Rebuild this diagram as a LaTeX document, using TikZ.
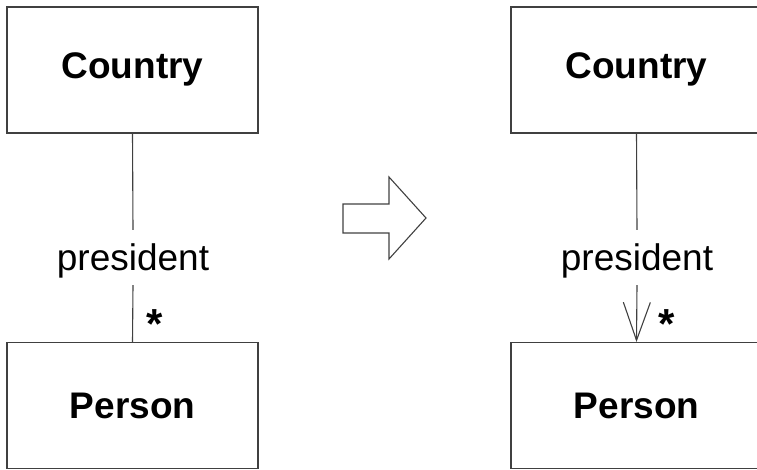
\documentclass[tikz,border=0pt]{standalone}
\usepackage{fontspec}
\setmainfont{Liberation Sans}
\usetikzlibrary{arrows.meta}
\begin{document}
\begin{tikzpicture}[x=1pt,y=-1pt,
  ln/.style={line width=1.1pt, draw=black!75},
  classbox/.style={ln, rectangle, minimum width=251pt, minimum height=126pt, inner sep=0pt, font=\fontsize{37}{44}\selectfont\bfseries},
  rolelbl/.style={rectangle, inner sep=0pt, minimum height=55pt, text height=30pt, text depth=5pt, font=\fontsize{37}{44}\selectfont},
  mult/.style={inner sep=0pt, font=\fontsize{42}{48}\selectfont\bfseries}]
\useasboundingbox (0,0) rectangle (757,470);
\clip (0,0) rectangle (757,470);
% left
\node[classbox, text height=25pt, text depth=8pt] (c1) at (132.5,70) {Country};
\node[classbox, text height=26pt, text depth=1pt] (p1) at (132.5,405.5) {Person};
\node[rolelbl] (r1) at (133,257.5) {president};
\draw[ln] (c1.south) -- (r1.north);
\draw[ln] (r1.south) -- (p1.north);
\node[mult] (m1) at (155,324) {*};
% big arrow
\draw[ln, line join=miter] (343,204) -- (389,204) -- (389,177) -- (426,218) -- (389,259) -- (389,233) -- (343,233) -- cycle;
% right
\node[classbox, text height=25pt, text depth=8pt] (c2) at (636.5,70) {Country};
\node[classbox, text height=26pt, text depth=1pt] (p2) at (636.5,405.5) {Person};
\node[rolelbl] (r2) at (637,257.5) {president};
\draw[ln] (c2.south) -- (r2.north);
\draw[ln, -{Straight Barb[length=38pt, width=27pt, line width=1.1pt]}] (r2.south) -- (p2.north);
\node[mult] (m2) at (667,324) {*};
\end{tikzpicture}
\end{document}
